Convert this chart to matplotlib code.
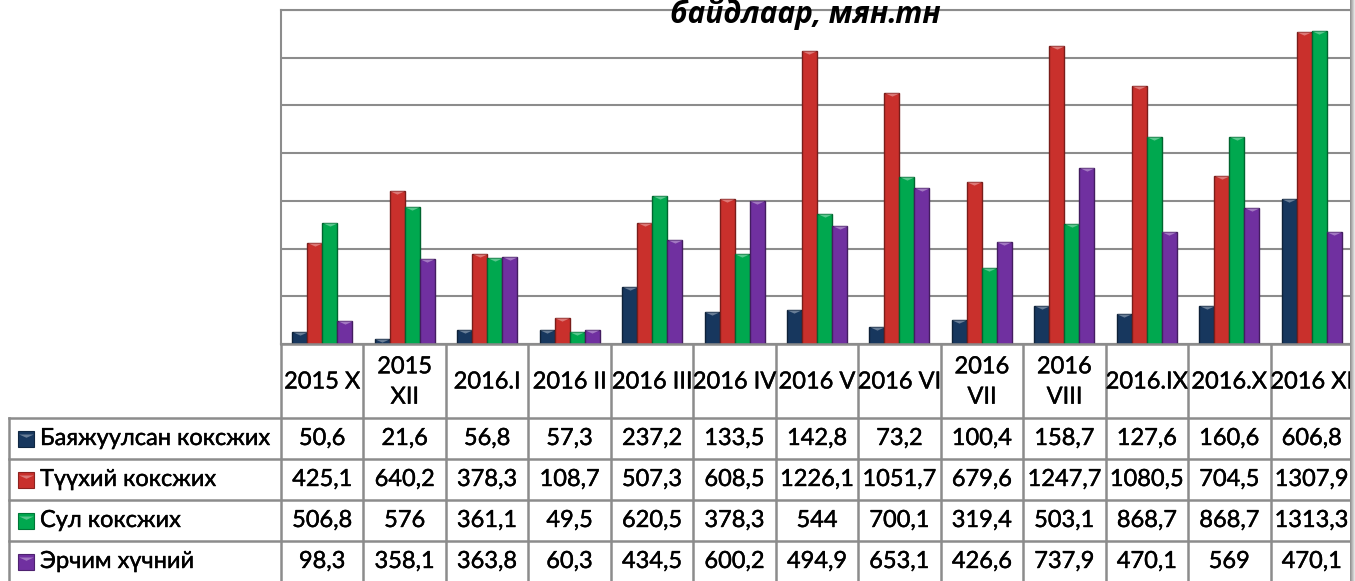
import numpy as np
import matplotlib.pyplot as plt
import matplotlib.patheffects as pe
from matplotlib.colors import to_rgb

periods = ["2015 X", "2015\nXII", "2016.I", "2016 II", "2016 III", "2016 IV",
           "2016 V", "2016 VI", "2016\nVII", "2016\nVIII", "2016.IX", "2016.X",
           "2016 XI"]
series_names = ["Баяжуулсан коксжих", "Түүхий коксжих", "Сул коксжих", "Эрчим хүчний"]
bayajuulsan = [50.6, 21.6, 56.8, 57.3, 237.2, 133.5, 142.8, 73.2, 100.4, 158.7, 127.6, 160.6, 606.8]
tuuhii = [425.1, 640.2, 378.3, 108.7, 507.3, 608.5, 1226.1, 1051.7, 679.6, 1247.7, 1080.5, 704.5, 1307.9]
sul = [506.8, 576, 361.1, 49.5, 620.5, 378.3, 544, 700.1, 319.4, 503.1, 868.7, 868.7, 1313.3]
erchim = [98.3, 358.1, 363.8, 60.3, 434.5, 600.2, 494.9, 653.1, 426.6, 737.9, 470.1, 569, 470.1]
series = [bayajuulsan, tuuhii, sul, erchim]
colors = ["#17375e", "#c9302c", "#00a84f", "#7030a0"]

W, H = 1355, 581
fig = plt.figure(figsize=(W / 100, H / 100), dpi=100)

# zone du graphe (pixels)
px_left, px_right, px_top, px_base = 281, 1353, 10, 344
ax = fig.add_axes([px_left / W, 1 - px_base / H, (px_right - px_left) / W, (px_base - px_top) / H])
n = len(periods)
x = np.arange(n)
bw = 0.182

def shade(c, f):
    r = np.array(to_rgb(c))
    if f > 0:
        return tuple(r + (1 - r) * f)
    return tuple(r * (1 + f))

for i, (vals, col) in enumerate(zip(series, colors)):
    xs = x + (i - 1.5) * bw
    ax.bar(xs, vals, width=bw, color=col, edgecolor=shade(col, -0.4), linewidth=1.0, zorder=3)
    # petite facette claire en haut de chaque barre
    ax.plot(xs, vals, linestyle="none", marker=[(-1, 0), (1, 0), (0, -0.45)],
            markersize=10, color=shade(col, 0.35), markeredgewidth=0, zorder=4)

ax.set_xlim(-0.5, n - 0.5)
ax.set_ylim(0, 1400)
ax.set_yticks(np.arange(0, 1401, 200))
ax.set_xticks([])
ax.tick_params(left=False, labelleft=False)
ax.yaxis.grid(True, color="#8c8c8c", linewidth=1.5, zorder=0)
ax.set_axisbelow(True)
for s in ax.spines.values():
    s.set_color("#8c8c8c")
    s.set_linewidth(1.5)

# tableau de donnees dessine en coordonnees pixels
tb = fig.add_axes([0, 0, 1, 1], zorder=5)
tb.set_xlim(0, W)
tb.set_ylim(H, 0)
tb.axis("off")
tb.patch.set_alpha(0)

font = ["Lato", "DejaVu Sans"]
fs = 17
bold_fx = [pe.withStroke(linewidth=0.3, foreground="black")]
lc = "#8c8c8c"
colw = (px_right - px_left) / n
row_y = [344, 418, 459, 500, 541, 582]
label_left = 9

tb.plot([px_left, px_right], [row_y[0], row_y[0]], color=lc, lw=1.8)
for y in row_y[1:-1]:
    tb.plot([label_left, px_right], [y, y], color=lc, lw=1.8)
for j in range(n + 1):
    xx = px_left + j * colw
    tb.plot([xx, xx], [row_y[0], H], color=lc, lw=1.8)
tb.plot([label_left, label_left], [row_y[1], H], color=lc, lw=1.8)

for j, p in enumerate(periods):
    cx = px_left + (j + 0.5) * colw
    tb.text(cx, (row_y[0] + row_y[1]) / 2 + 1, p, ha="center", va="center",
            fontsize=fs, family=font, linespacing=1.55, path_effects=bold_fx)

for r, (name, vals, col) in enumerate(zip(series_names, series, colors)):
    cy = (row_y[r + 1] + row_y[r + 2]) / 2
    tb.plot([25.5], [cy], marker="s", markersize=12, color=col,
            markeredgecolor=shade(col, -0.3), markeredgewidth=0.8)
    tb.plot([25.5], [cy - 5], marker=[(-1, 0), (1, 0), (0, -0.45)], markersize=10.5,
            color=shade(col, 0.35), markeredgewidth=0)
    tb.text(40, cy, name, ha="left", va="center", fontsize=fs, family=font,
            path_effects=bold_fx)
    for j, v in enumerate(vals):
        cx = px_left + (j + 0.5) * colw
        tb.text(cx, cy, f"{v:g}".replace(".", ","), ha="center", va="center",
                fontsize=fs, family=font, path_effects=bold_fx)

# ombre a droite
grad = np.linspace(0.55, 0.92, 20).reshape(1, -1)
tb.imshow(grad, cmap="gray", vmin=0, vmax=1, extent=[1350, 1355, H, 0], aspect="auto", zorder=6)

# titre (coupe en haut dans l'original)
tb.text(805, 23, "байдлаар, мян.тн", ha="center", va="baseline", fontsize=21.5,
        fontweight="bold", fontstyle="italic", family=["Open Sans", "DejaVu Sans"], zorder=7)

plt.savefig("out.png", dpi=100)
plt.close()
